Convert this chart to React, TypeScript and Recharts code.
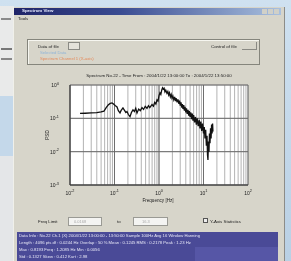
import React from "react";
import { LineChart, Line, XAxis, YAxis, CartesianGrid, ReferenceLine } from "recharts";

// Frequency [Hz]
const freq = [
  0.0168, 0.022, 0.03, 0.04, 0.05, 0.058, 0.065, 0.072, 0.08, 0.088, 0.095, 0.105, 0.114, 0.122, 0.133, 0.14,
  0.155, 0.165, 0.18, 0.191, 0.205, 0.223, 0.24, 0.26, 0.28, 0.3, 0.32, 0.35, 0.38, 0.415, 0.45, 0.49, 0.537,
  0.58, 0.62, 0.696, 0.75, 0.8, 0.85, 0.902, 0.95, 1.0, 1.05, 1.1, 1.15, 1.2, 1.25, 1.3, 1.36, 1.42, 1.51, 1.58,
  1.65, 1.72, 1.8, 1.88, 1.96, 2.05, 2.15, 2.25, 2.35, 2.45, 2.55, 2.67, 2.8, 2.9, 3.0, 3.12, 3.25, 3.35, 3.46,
  3.6, 3.72, 3.85, 4.0, 4.15, 4.3, 4.49, 4.65, 4.8, 5.0, 5.2, 5.4, 5.6, 5.81, 6.0, 6.3, 6.6, 6.9, 7.2, 7.6, 8.0,
  8.34, 8.7, 9.1, 9.5, 10.0, 10.4, 10.8, 11.2, 11.6, 12.0, 12.3, 12.6, 12.9, 13.3, 13.6, 14.0, 14.4, 14.8, 15.2,
  15.6, 16.0, 16.3,
];
// PSD values
const psd = [
  0.14, 0.142, 0.145, 0.148, 0.155, 0.165, 0.21, 0.25, 0.28, 0.29, 0.27, 0.24, 0.22, 0.17, 0.145, 0.17,
  0.205, 0.18, 0.15, 0.16, 0.13, 0.112, 0.15, 0.18, 0.16, 0.2, 0.145, 0.19, 0.17, 0.21, 0.185, 0.23, 0.2,
  0.24, 0.21, 0.26, 0.23, 0.3, 0.27, 0.36, 0.33, 0.48, 0.58, 0.52, 0.7, 0.82, 0.75, 0.8, 0.62, 0.7, 0.56, 0.64,
  0.5, 0.58, 0.44, 0.52, 0.4, 0.47, 0.36, 0.44, 0.33, 0.4, 0.3, 0.37, 0.27, 0.34, 0.24, 0.3, 0.21, 0.27, 0.19,
  0.25, 0.17, 0.22, 0.15, 0.2, 0.135, 0.18, 0.12, 0.165, 0.11, 0.15, 0.095, 0.14, 0.085, 0.125, 0.075, 0.11, 0.065, 0.1, 0.058, 0.09,
  0.05, 0.08, 0.042, 0.07, 0.035, 0.055, 0.025, 0.045, 0.015, 0.03, 0.008, 0.0056, 0.02, 0.01, 0.035, 0.018, 0.05, 0.025, 0.065,
  0.035, 0.07, 0.04,
];

const xDecades = [0.01, 0.1, 1, 10, 100];
const yDecades = [0.001, 0.01, 0.1, 1];
const minorMultipliers = [1, 2, 3, 4, 5, 6, 7, 8, 9];

const xTicks: number[] = [];
xDecades.forEach((d, i) => {
  if (i === xDecades.length - 1) xTicks.push(d);
  else minorMultipliers.forEach((m) => xTicks.push(+(d * m).toPrecision(3)));
});

const data = freq.map((f, i) => ({ f, p: psd[i] }));

const isDecade = (v: number) => xDecades.some((d) => Math.abs(d - v) < d * 1e-6);
const expOf = (v: number) => Math.round(Math.log10(v));

const XTick = (props: any) => {
  const { x, y, payload } = props;
  if (!isDecade(payload.value)) return null;
  return (
    <text x={x} y={y + 1.5} textAnchor="middle" fontSize={5} fill="#222" fontFamily="Liberation Sans">
      10<tspan dy={-2.5} fontSize={3.8}>{expOf(payload.value)}</tspan>
    </text>
  );
};

const YTick = (props: any) => {
  const { x, y, payload } = props;
  return (
    <text x={x - 3} y={y + 2} textAnchor="end" fontSize={5} fill="#222" fontFamily="Liberation Sans">
      10<tspan dy={-2.5} fontSize={3.8}>{expOf(payload.value)}</tspan>
    </text>
  );
};

const abs = (l: number, t: number, w: number, h: number, extra: React.CSSProperties = {}): React.CSSProperties => ({
  position: "absolute", left: l, top: t, width: w, height: h, ...extra,
});

const txt = (l: number, t: number, s: string, size = 4.6, color = "#222", extra: React.CSSProperties = {}) => (
  <div style={{ position: "absolute", left: l, top: t, fontSize: size, color, whiteSpace: "nowrap", lineHeight: 1, fontFamily: "Liberation Sans", ...extra }}>{s}</div>
);

export default function App() {
  return (
    <div style={{ position: "fixed", left: 0, top: 0, width: 291, height: 261, overflow: "hidden", background: "linear-gradient(#cfe1f0, #b9d0e4)", filter: "blur(0.45px)" }}>
      {/* background window at left */}
      <div style={abs(0, 6, 14, 90, { background: "#e9eaea" })} />
      <div style={abs(1, 18, 10, 2, { background: "#8a8a8a" })} />
      <div style={abs(1, 48, 11, 2, { background: "#777" })} />
      <div style={abs(1, 58, 11, 2, { background: "#888" })} />
      <div style={abs(0, 96, 14, 60, { background: "#c4d8ea" })} />
      <div style={abs(0, 156, 14, 105, { background: "#e4e6e8" })} />
      {/* main window */}
      <div style={abs(13, 7, 270, 256, { background: "#d7d5ca", borderRight: "1px solid #8c8c88", borderLeft: "1px solid #f0f0ea" })} />
      <div style={abs(14, 8, 267, 7, { background: "linear-gradient(to right, #1f2468, #3a4c92 40%, #a9c0de)" })} />
      {txt(22, 9.3, "Spectrum View", 4.4, "#e8ecff", { fontWeight: "bold" })}
      <div style={abs(262, 9, 5, 5, { background: "#d0d0c8" })} />
      <div style={abs(268, 9, 5, 5, { background: "#d0d0c8" })} />
      <div style={abs(274, 9, 5, 5, { background: "#d0d0c8" })} />
      {txt(18, 17, "Tools", 4.4)}
      {/* group box */}
      <div style={abs(27, 39, 233, 26, { border: "1px solid #85857c", boxShadow: "inset 1px 1px 0 #f6f6f0", boxSizing: "border-box" })} />
      {txt(38, 44.5, "Data of file", 4.4)}
      <div style={abs(68, 42, 12, 8, { border: "1px solid #8a8a84", background: "#e4e2da", boxSizing: "border-box" })} />
      {txt(40, 50.5, "Selected Data", 4.2, "#8fb4d8")}
      {txt(40, 56.5, "Spectrum Channel 1 (X-axis)", 4.2, "#e58a5a")}
      {txt(211, 44.5, "Control of file", 4.4)}
      <div style={abs(242, 42, 15, 8, { borderRight: "1px solid #8a8a84", borderBottom: "1px solid #8a8a84", boxSizing: "border-box" })} />
      {/* chart title and labels */}
      {txt(159, 74, "Spectrum No.22  -  Time From : 2004/1/22 13:00:00  To : 2004/1/22 13:50:00", 4.4, "#222", { transform: "translateX(-50%)" })}
      {txt(48, 135, "PSD", 4.6, "#222", { transform: "translate(-50%,-50%) rotate(-90deg)" })}
      {txt(158, 198.5, "Frequency  [Hz]", 4.6, "#222", { transform: "translateX(-50%)" })}
      {/* chart */}
      <div style={{ position: "absolute", left: 0, top: 0 }}>
        <LineChart width={291} height={261} data={data} margin={{ top: 85, right: 43, bottom: 56, left: 45 }}>
          <CartesianGrid fill="#ffffff" stroke="#a0a0a0" strokeWidth={0.8} horizontal={true} vertical={true} />
          {xDecades.map((d) => (
            <ReferenceLine key={"xd" + d} x={d} stroke="#666" strokeWidth={0.9} />
          ))}
          {yDecades.map((d) => (
            <ReferenceLine key={"yd" + d} y={d} stroke="#666" strokeWidth={0.9} />
          ))}
          <XAxis dataKey="f" type="number" scale="log" domain={[0.01, 100]} ticks={xTicks} allowDataOverflow
            tick={<XTick />} tickLine={false} axisLine={{ stroke: "#333" }} height={20} interval={0} />
          <XAxis xAxisId="top" orientation="top" type="number" scale="log" domain={[0.01, 100]} tick={false} tickLine={false} axisLine={{ stroke: "#333" }} height={0} />
          <YAxis type="number" scale="log" domain={[0.001, 1]} ticks={yDecades} allowDataOverflow
            tick={<YTick />} tickLine={false} axisLine={{ stroke: "#333" }} width={25} interval={0} />
          <YAxis yAxisId="right" orientation="right" type="number" scale="log" domain={[0.001, 1]} tick={false} tickLine={false} axisLine={{ stroke: "#333" }} width={0} />
          <Line dataKey="p" type="linear" stroke="#111" strokeWidth={1.3} dot={false} isAnimationActive={false} />
        </LineChart>
      </div>
      {/* bottom controls */}
      {txt(38, 220, "Freq Limit", 4.4)}
      <div style={abs(68, 217, 34, 9, { background: "#f4f4f2", border: "1px solid #9a9a94", boxSizing: "border-box" })} />
      {txt(74, 219.5, "0.0168", 4, "#aaa")}
      {txt(117, 220, "to", 4.4)}
      <div style={abs(133, 217, 35, 9, { background: "#f4f4f2", border: "1px solid #9a9a94", boxSizing: "border-box" })} />
      {txt(142, 219.5, "16.3", 4, "#aaa")}
      <div style={abs(203, 218, 5, 5, { border: "1px solid #555", background: "#eee", boxSizing: "border-box" })} />
      {txt(210, 219.5, "Y-Axis Statistics", 4.4)}
      {/* status panel */}
      <div style={abs(17, 232, 261, 32, { background: "#4a4a97" })} />
      <div style={abs(195, 247, 83, 17, { background: "#5656a6" })} />
      {txt(19, 234, "Data Info : No.22   Ch.1 (X)  2004/1/22 13:00:00 - 13:50:00   Sample 100Hz   Avg 16   Window Hanning", 4.2, "#e6e6f6")}
      {txt(19, 241, "Length : 4096 pts   df : 0.0244 Hz   Overlap : 50 %   Mean : 0.1245   RMS : 0.2178   Peak : 1.23 Hz", 4.2, "#e6e6f6")}
      {txt(19, 248, "Max : 0.8193   Freq : 1.2085 Hz   Min : 0.0056", 4.2, "#e6e6f6")}
      {txt(19, 255, "Std : 0.1327   Skew : 0.412   Kurt : 2.98", 4.2, "#e6e6f6")}
    </div>
  );
}
